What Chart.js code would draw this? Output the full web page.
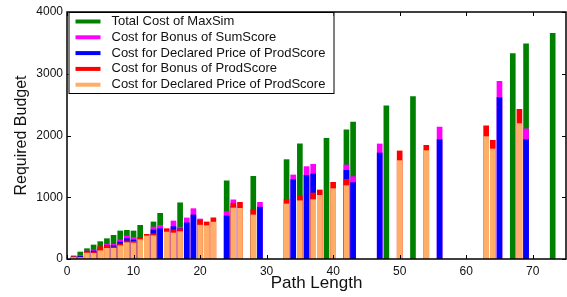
<!DOCTYPE html>
<html>
<head>
<meta charset="utf-8">
<script src="https://cdn.jsdelivr.net/npm/chart.js@4"></script>
<style>
html, body { margin: 0; padding: 0; background: #fff; }
</style>
</head>
<body>
<canvas id="budgetChart" width="567" height="297"></canvas>
<script>
// Path lengths that have at least one bar
const pathLengths = [1, 2, 3, 4, 5, 6, 7, 8, 9, 10, 11, 12, 13, 14, 15, 16, 17, 18, 19, 20, 21, 22,
    24, 25, 26, 28, 29, 33, 34, 35, 36, 37, 38, 39, 40, 42, 43, 47, 48, 50, 52, 54, 56, 63, 64, 65, 67, 68, 69, 73];

// Values per path length (null = no bar)
const maxSimTotal = [50, 113, 167, 227, 281, 329, 383, 454, 464, 454, 545, null, 600, 740, null, null, 910, null, null, null, null, null,
    1266, null, null, 1339, null, 1609, null, 1865, null, null, null, 1955, null, 2090, 2219, null, 2479, null, 2630, null, null, null, null, null, 3326, null, 3483, 3656];
const sumScoreBonus = [35, 60, 130, 146, 180, 238, 238, 308, 373, 351, 320, null, 518, 545, null, 616, 515, 665, 815, 648, null, null,
    767, 958, null, null, 918, null, 1361, null, 1496, 1534, null, null, null, 1523, 1334, 1863, null, null, null, null, 2138, null, null, 2878, null, null, 2106, null];
const sumScoreDeclared = [30, 45, 118, 130, 160, 215, 216, 275, 330, 308, 290, null, 470, 491, null, 524, 490, 586, 713, 520, null, null,
    697, 850, null, null, 840, null, 1285, null, 1355, 1377, null, null, null, 1436, 1237, 1717, null, null, null, null, 1933, null, null, 2614, null, null, 1933, null];
const prodScoreBonus = [35, 30, 113, 108, 200, 205, 194, 243, 292, 285, 351, 400, 410, null, 491, 470, 486, null, null, 632, 600, 667,
    null, 905, 918, 805, null, 967, null, 1024, null, 1069, 1118, null, 1242, 1291, null, null, null, 1750, null, 1841, null, 2155, 1922, null, null, 2425, null, null];
const prodScoreDeclared = [25, 22, 97, 92, 135, 173, 173, 216, 265, 259, 313, 373, 378, null, 437, 421, 443, null, null, 548, 540, 597,
    null, 826, 821, 713, null, 891, null, 943, null, 961, 1031, null, 1139, 1188, null, null, null, 1593, null, 1755, null, 1982, 1782, null, null, 2192, null, null];

const xTickValues = [0, 10, 20, 30, 40, 50, 60, 70];
const yTickValues = [0, 1000, 2000, 3000, 4000];

function toPoints(values) {
    return pathLengths.map((x, i) => ({ x: x, y: values[i] })).filter(p => p.y !== null);
}

// Bars are drawn on top of each other at the same x (matplotlib style)
const series = [
    { label: 'Total Cost of MaxSim', values: maxSimTotal, color: '#008000' },
    { label: 'Cost for Bonus of SumScore', values: sumScoreBonus, color: '#ff00ff' },
    { label: 'Cost for Declared Price of ProdScore', values: sumScoreDeclared, color: '#0000ff' },
    { label: 'Cost for Bonus of ProdScore', values: prodScoreBonus, color: '#ff0000' },
    { label: 'Cost for Declared Price of ProdScore', values: prodScoreDeclared, color: '#ffae68' }
];

const datasets = series.map((s, i) => ({
    label: s.label,
    data: toPoints(s.values),
    backgroundColor: s.color,
    borderWidth: 0,
    barThickness: 5,
    grouped: false,
    order: series.length - i
}));

// Frame and inward ticks on all four sides
const framePlugin = {
    id: 'frame',
    afterDatasetsDraw(chart) {
        const { ctx, chartArea: a, scales } = chart;
        ctx.save();
        ctx.strokeStyle = '#000';
        ctx.lineWidth = 1;
        ctx.beginPath();
        xTickValues.forEach(v => {
            const px = Math.round(scales.x.getPixelForValue(v)) + 0.5;
            ctx.moveTo(px, a.bottom); ctx.lineTo(px, a.bottom - 4);
            ctx.moveTo(px, a.top); ctx.lineTo(px, a.top + 4);
        });
        yTickValues.forEach(v => {
            const py = Math.round(scales.y.getPixelForValue(v)) + 0.5;
            ctx.moveTo(a.left, py); ctx.lineTo(a.left + 4, py);
            ctx.moveTo(a.right, py); ctx.lineTo(a.right - 4, py);
        });
        ctx.stroke();
        ctx.lineWidth = 1.5;
        ctx.strokeRect(a.left, a.top, a.right - a.left, a.bottom - a.top);
        ctx.restore();
    }
};

// Legend inside the plot, top left, with line handles
const legendPlugin = {
    id: 'innerLegend',
    afterDraw(chart) {
        const { ctx, chartArea: a } = chart;
        const left = a.left + 1.5, top = a.top, w = 265, h = 81;
        ctx.save();
        ctx.fillStyle = '#fff';
        ctx.fillRect(left, top, w, h);
        ctx.strokeStyle = '#000';
        ctx.lineWidth = 1;
        ctx.strokeRect(left + 0.5, top + 0.5, w, h);
        ctx.font = '13px "Liberation Sans", Arial, sans-serif';
        ctx.textBaseline = 'middle';
        series.forEach((s, i) => {
            const y = top + 9.5 + i * 15.8;
            ctx.strokeStyle = s.color;
            ctx.lineWidth = 4;
            ctx.beginPath();
            ctx.moveTo(left + 7, y);
            ctx.lineTo(left + 32, y);
            ctx.stroke();
            ctx.fillStyle = '#111';
            ctx.fillText(s.label, left + 43, y);
        });
        ctx.restore();
    }
};

new Chart(document.getElementById('budgetChart'), {
    type: 'bar',
    data: { datasets: datasets },
    options: {
        responsive: false,
        animation: false,
        layout: { padding: { top: 12, right: 1, left: 0, bottom: 0 } },
        font: { family: '"Liberation Sans", Arial, sans-serif' },
        plugins: {
            legend: { display: false },
            tooltip: { enabled: false }
        },
        scales: {
            x: {
                type: 'linear',
                min: 0,
                max: 75,
                offset: false,
                grid: { display: false, drawTicks: false, offset: false },
                border: { display: false },
                ticks: {
                    stepSize: 10,
                    includeBounds: false,
                    padding: 5,
                    color: '#111',
                    font: { size: 12, family: '"Liberation Sans", Arial, sans-serif' },
                    callback: v => String(v)
                },
                title: {
                    display: true,
                    text: 'Path Length',
                    color: '#111',
                    padding: { top: 0, bottom: 3 },
                    font: { size: 17, family: '"Liberation Sans", Arial, sans-serif' }
                },
                afterFit(scale) { scale.height = 38; }
            },
            y: {
                min: 0,
                max: 4000,
                grid: { display: false, drawTicks: false },
                border: { display: false },
                ticks: {
                    stepSize: 1000,
                    padding: 4,
                    color: '#111',
                    font: { size: 12, family: '"Liberation Sans", Arial, sans-serif' },
                    callback: v => String(v)
                },
                title: {
                    display: true,
                    text: 'Required Budget',
                    color: '#111',
                    padding: { top: 12, bottom: 0 },
                    font: { size: 16, family: '"Liberation Sans", Arial, sans-serif' }
                },
                afterFit(scale) { scale.width = 67; }
            }
        }
    },
    plugins: [framePlugin, legendPlugin]
});
</script>
</body>
</html>
